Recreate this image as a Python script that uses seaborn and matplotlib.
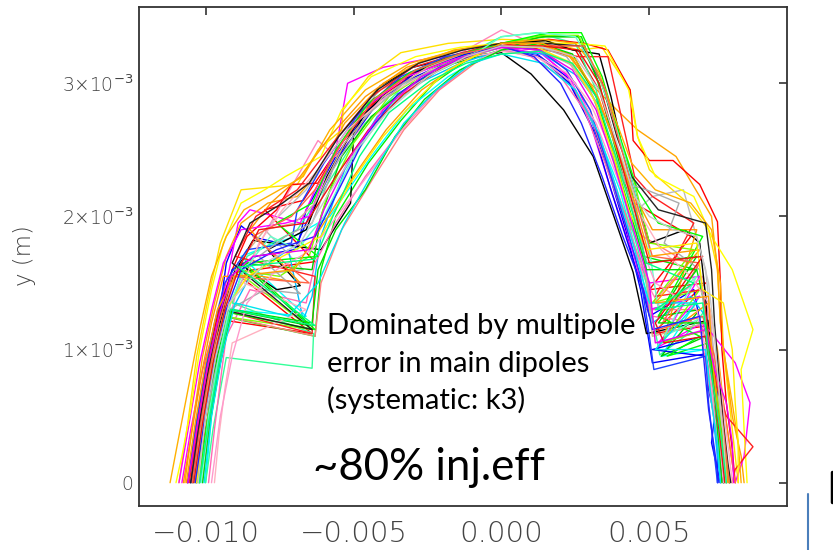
import matplotlib
matplotlib.use("Agg")
import matplotlib.pyplot as plt
import matplotlib.ticker as mticker
from matplotlib.lines import Line2D
import seaborn as sns
import pandas as pd

# ---- data (mm units: x, y of each seed's aperture boundary) ----
s01 = [(-10.3,0),(-10.0,0.4),(-9.7,0.8),(-9.35,1.22),(-6.4,1.12),(-9.0,1.58),(-6.3,1.66),(-8.0,2.05),(-6.7,2.12),(-5.4,2.55),(-4.2,2.88),(-2.9,3.08),(-1.5,3.2),(0.0,3.3),(1.3,3.3),(2.5,3.25),(3.3,2.95),(3.9,2.5),(4.5,2.1),(6.4,1.85),(5.0,1.45),(6.9,1.5),(5.1,1.12),(7.0,1.18),(7.2,0.8),(7.4,0.45),(7.6,0.18),(7.7,0)]
s02 = [(-10.6,0),(-10.3,0.35),(-10.0,0.75),(-9.6,1.15),(-9.3,1.65),(-8.8,1.93),(-8.3,1.84),(-6.9,1.77),(-6.6,2.05),(-5.6,2.45),(-4.5,2.8),(-3.2,3.02),(-1.7,3.17),(0.0,3.27),(1.2,3.22),(2.2,3.05),(3.0,2.75),(3.6,2.35),(4.2,1.9),(4.7,1.45),(5.1,0.9),(6.95,0.97),(7.0,0.7),(7.2,0.5),(7.1,0.3),(7.3,0.1),(7.4,0)]
s03 = [(-10.2,0),(-9.95,0.45),(-9.7,0.85),(-9.4,1.25),(-6.3,1.1),(-6.1,1.6),(-5.6,2.0),(-4.5,2.4),(-3.4,2.72),(-2.3,3.0),(-1.0,3.2),(0.0,3.3),(1.5,3.35),(2.7,3.35),(3.2,3.05),(3.8,2.6),(4.4,2.2),(4.8,1.7),(6.6,1.6),(6.9,1.3),(7.0,0.9),(7.25,0.5),(7.5,0.2),(7.6,0)]
s04 = [(-10.5,0),(-10.2,0.45),(-9.9,0.85),(-9.5,1.2),(-9.1,1.55),(-8.4,1.82),(-6.1,1.75),(-5.1,2.1),(-5.0,2.62),(-4.1,2.98),(-3.0,3.12),(-1.5,3.2),(0.0,3.23),(1.0,3.07),(2.1,2.8),(3.1,2.45),(3.8,2.0),(4.45,1.58),(4.9,1.12),(7.0,1.22),(7.1,0.8),(7.3,0.45),(7.5,0.2),(7.7,0)]
s05 = [(-10.8,0),(-10.5,0.4),(-10.1,0.85),(-9.6,1.25),(-9.2,1.6),(-8.9,1.95),(-8.5,2.05),(-6.8,1.95),(-6.3,2.2),(-5.6,2.5),(-5.2,3.0),(-4.0,3.12),(-2.6,3.18),(-1.3,3.22),(0.0,3.28),(1.2,3.25),(2.3,3.05),(3.0,2.7),(3.7,2.2),(4.3,1.8),(5.0,1.5),(6.7,1.55),(5.3,1.02),(6.8,1.2),(7.2,0.9),(7.5,0.6),(7.7,0.3),(7.9,0)]
s06 = [(-10.0,0),(-9.8,0.5),(-9.5,0.95),(-9.2,1.3),(-6.6,1.25),(-8.8,1.7),(-7.0,1.85),(-5.8,2.0),(-4.4,2.45),(-3.2,2.8),(-1.8,3.05),(-0.6,3.2),(0.0,3.25),(1.3,3.2),(2.5,2.95),(3.3,2.6),(4.0,2.2),(4.6,1.7),(5.0,1.3),(6.7,1.4),(5.4,0.95),(6.9,1.0),(7.1,0.6),(7.3,0.3),(7.5,0)]
s07 = [(-10.9,0),(-10.6,0.45),(-10.3,0.95),(-9.9,1.4),(-9.5,1.8),(-8.8,2.2),(-6.9,2.24),(-6.2,2.5),(-5.4,2.65),(-5.35,2.8),(-4.5,3.05),(-3.4,3.23),(-1.8,3.3),(0.0,3.33),(1.5,3.32),(2.6,3.25),(3.4,3.27),(4.35,2.95),(4.6,2.6),(5.0,2.35),(6.3,2.1),(7.0,1.9),(7.3,1.6),(7.4,1.2),(7.6,0.8),(7.8,0.4),(8.0,0)]
s08 = [(-10.7,0),(-10.4,0.5),(-10.1,0.95),(-9.7,1.35),(-9.3,1.7),(-8.8,1.95),(-7.9,2.1),(-6.9,2.15),(-6.3,2.3),(-5.3,2.7),(-4.0,3.0),(-2.6,3.18),(-1.2,3.26),(0.0,3.3),(1.4,3.28),(2.3,3.2),(3.0,3.0),(3.9,2.8),(4.6,2.65),(5.9,2.45),(7.1,2.0),(7.3,1.6),(7.4,1.2),(7.6,0.85),(7.8,0.5),(8.1,0.2),(8.2,0)]
s09 = [(-10.1,0),(-9.85,0.5),(-9.5,0.95),(-9.0,1.4),(-8.4,1.7),(-7.8,1.95),(-6.2,2.57),(-5.6,2.45),(-4.6,2.7),(-3.2,2.95),(-1.6,3.2),(0.0,3.4),(1.1,3.3),(2.2,3.1),(3.0,2.8),(3.6,2.4),(4.2,2.0),(4.8,1.55),(5.4,1.3),(6.8,1.55),(7.1,1.1),(7.3,0.7),(7.5,0.35),(7.7,0)]
s10 = [(-10.4,0),(-10.1,0.45),(-9.8,0.85),(-9.3,1.3),(-8.7,1.55),(-6.7,1.6),(-8.0,1.9),(-6.6,2.2),(-5.5,2.6),(-4.1,2.95),(-2.6,3.12),(-1.2,3.22),(0.0,3.28),(1.4,3.25),(2.5,3.12),(3.2,2.85),(3.8,2.45),(4.6,2.05),(5.1,2.15),(6.15,2.2),(6.9,1.6),(7.1,1.15),(7.3,0.7),(7.5,0.3),(7.6,0)]
s11 = [(-10.2,0),(-9.95,0.45),(-9.65,0.9),(-9.3,1.25),(-6.3,1.1),(-6.1,1.5),(-5.4,1.9),(-4.3,2.3),(-3.3,2.65),(-2.1,2.95),(-0.9,3.15),(0.0,3.25),(1.3,3.2),(2.3,3.0),(3.1,2.7),(3.7,2.3),(4.4,1.9),(6.3,1.65),(4.9,1.3),(6.6,1.3),(7.0,1.0),(7.2,0.6),(7.45,0.25),(7.6,0)]
s12 = [(-10.0,0),(-9.75,0.4),(-9.3,0.94),(-6.4,0.86),(-6.35,1.12),(-9.1,1.35),(-8.6,1.7),(-6.9,1.9),(-6.0,2.2),(-4.6,2.7),(-3.2,3.0),(-1.8,3.15),(0.0,3.35),(1.2,3.38),(2.5,3.3),(3.2,2.95),(3.7,2.5),(4.3,2.0),(4.8,1.6),(5.35,0.96),(6.2,1.1),(6.9,1.3),(7.1,0.9),(7.3,0.5),(7.5,0.2),(7.7,0)]
s13 = [(-10.6,0),(-10.3,0.45),(-9.95,0.9),(-9.55,1.3),(-9.1,1.6),(-8.6,1.85),(-7.6,2.05),(-7.1,2.24),(-6.2,2.25),(-5.0,2.7),(-3.7,3.0),(-2.2,3.17),(-0.8,3.26),(0.0,3.3),(1.6,3.33),(2.8,3.3),(3.6,3.25),(4.35,2.95),(4.45,2.57),(5.0,2.42),(5.8,2.42),(6.7,2.24),(7.3,1.96),(7.4,1.5),(7.45,1.0),(7.6,0.6),(7.8,0.25),(7.9,0)]
s14 = [(-10.3,0),(-10.0,0.5),(-9.6,0.95),(-9.2,1.3),(-6.5,1.18),(-8.8,1.65),(-6.4,1.6),(-6.1,2.0),(-5.4,2.45),(-4.4,2.75),(-3.0,3.0),(-1.6,3.15),(0.0,3.25),(1.3,3.35),(2.6,3.35),(3.3,3.0),(3.8,2.55),(4.3,2.15),(4.9,1.65),(6.6,1.7),(5.3,1.25),(6.7,1.3),(5.4,0.95),(6.9,1.1),(7.1,0.7),(7.3,0.35),(7.5,0)]
s15 = [(-10.5,0),(-10.2,0.5),(-9.9,0.9),(-9.5,1.3),(-9.1,1.6),(-8.3,1.7),(-7.0,1.75),(-6.4,2.05),(-5.5,2.45),(-4.2,2.85),(-2.8,3.1),(-1.2,3.22),(0.0,3.27),(1.3,3.2),(2.3,3.0),(3.1,2.65),(3.7,2.2),(4.2,1.85),(4.7,1.5),(5.0,1.25),(6.5,1.45),(6.8,1.1),(5.1,1.0),(6.9,0.95),(7.3,0.7),(7.2,0.5),(7.3,0.25),(7.3,0)]
s16 = [(-10.45,0),(-10.15,0.5),(-9.8,0.95),(-9.4,1.35),(-8.9,1.65),(-7.6,1.45),(-6.8,1.48),(-7.9,1.75),(-6.6,1.9),(-5.9,2.3),(-4.9,2.7),(-3.6,3.0),(-2.0,3.18),(0.0,3.3),(1.5,3.32),(2.4,3.25),(3.3,3.22),(3.7,2.9),(4.1,2.5),(4.5,2.2),(5.0,1.8),(6.2,1.9),(6.7,1.8),(6.9,1.4),(7.0,1.0),(7.2,0.6),(7.35,0.25),(7.5,0)]
s17 = [(-10.9,0),(-10.55,0.45),(-10.2,0.9),(-9.8,1.3),(-9.4,1.65),(-8.8,1.9),(-7.3,1.95),(-6.5,2.0),(-5.8,2.4),(-4.7,2.8),(-3.2,3.05),(-1.6,3.18),(0.0,3.27),(1.4,3.22),(2.5,3.0),(3.3,2.6),(4.0,2.1),(4.6,1.6),(5.0,1.3),(6.7,1.4),(5.3,1.05),(7.0,1.15),(7.9,0.9),(8.4,0.6),(8.2,0.2),(7.9,0)]
s18 = [(-10.2,0),(-9.9,0.45),(-9.5,0.9),(-9.1,1.3),(-8.5,1.55),(-7.2,1.75),(-6.7,1.22),(-6.4,1.4),(-6.1,1.85),(-5.3,2.35),(-4.2,2.75),(-2.8,3.0),(-1.4,3.15),(0.0,3.25),(1.4,3.22),(2.6,3.05),(3.4,2.8),(4.0,2.45),(4.6,2.0),(4.9,1.6),(5.1,1.2),(6.4,1.4),(6.9,1.25),(7.1,0.8),(7.2,0.4),(7.4,0)]
s19 = [(-11.0,0),(-10.8,0.2),(-10.5,0.55),(-10.2,1.0),(-9.8,1.45),(-9.4,1.8),(-8.8,2.1),(-8.0,2.2),(-7.3,2.3),(-6.1,2.45),(-5.4,2.8),(-4.4,3.05),(-2.9,3.2),(-1.4,3.27),(0.0,3.3),(1.4,3.3),(2.5,3.3),(3.5,3.28),(4.3,2.95),(4.6,2.6),(5.2,2.3),(6.5,2.15),(7.1,1.85),(7.8,1.6),(8.5,1.15),(8.1,0.85),(8.2,0.4),(8.3,0)]
s20 = [(-10.75,0),(-10.45,0.4),(-10.15,0.8),(-9.8,1.2),(-9.4,1.55),(-8.1,1.55),(-6.8,1.5),(-8.5,1.9),(-7.8,2.1),(-6.8,2.3),(-5.8,2.6),(-4.6,2.9),(-3.2,3.12),(-1.6,3.25),(0.0,3.3),(1.2,3.3),(2.3,3.22),(3.1,2.95),(3.8,2.6),(4.4,2.2),(5.1,1.9),(6.6,1.9),(5.5,1.1),(7.0,1.35),(7.3,1.0),(7.5,0.6),(7.7,0.3),(7.9,0)]
s21 = [(-9.9,0),(-9.7,0.4),(-9.45,0.85),(-9.3,1.1),(-8.5,1.45),(-6.6,1.35),(-6.3,1.65),(-5.6,1.95),(-4.6,2.3),(-3.5,2.62),(-2.3,2.92),(-1.0,3.15),(0.0,3.25),(1.0,3.2),(2.0,3.05),(2.8,2.8),(3.5,2.4),(4.2,1.95),(4.9,1.55),(5.1,1.25),(6.7,1.2),(6.9,0.9),(7.1,0.6),(7.3,0.3),(7.45,0)]
s22 = [(-10.35,0),(-10.05,0.45),(-9.75,0.85),(-9.4,1.25),(-6.4,1.15),(-9.0,1.6),(-7.5,1.55),(-6.5,1.7),(-5.9,2.15),(-5.0,2.55),(-3.8,2.9),(-2.4,3.1),(-1.0,3.22),(0.0,3.3),(1.4,3.36),(2.6,3.36),(3.3,3.05),(3.9,2.65),(4.5,2.25),(5.0,1.8),(6.5,1.75),(5.1,1.35),(6.7,1.45),(5.4,1.05),(6.95,1.15),(7.2,0.8),(7.4,0.45),(7.6,0.15),(7.7,0)]
s23 = [(-10.4,0),(-10.1,0.5),(-9.75,0.95),(-9.3,1.35),(-8.9,1.65),(-8.0,1.9),(-7.0,1.95),(-6.3,2.1),(-5.3,2.55),(-4.0,2.9),(-2.5,3.12),(-1.1,3.24),(0.0,3.28),(1.2,3.25),(2.3,3.15),(3.1,2.9),(3.7,2.5),(4.3,2.15),(4.8,1.75),(5.1,1.1),(6.9,1.2),(7.05,0.85),(7.2,0.5),(7.4,0.2),(7.55,0)]
s24 = [(-10.55,0),(-10.25,0.45),(-9.9,0.9),(-9.5,1.3),(-6.4,1.12),(-6.3,1.55),(-9.0,1.7),(-8.3,2.0),(-6.9,2.2),(-5.7,2.55),(-4.4,2.9),(-3.0,3.12),(-1.5,3.22),(0.0,3.3),(1.5,3.25),(2.6,3.2),(3.6,3.2),(4.1,2.7),(4.5,2.3),(5.1,2.15),(6.5,1.95),(5.2,1.4),(6.8,1.45),(7.0,1.1),(7.3,0.7),(7.6,0.5),(8.5,0.27),(7.9,0.1),(7.8,0)]
s25 = [(-10.6,0),(-10.35,0.4),(-10.05,0.8),(-9.7,1.2),(-9.35,1.5),(-8.6,1.75),(-7.1,1.8),(-6.9,2.05),(-6.0,2.4),(-4.8,2.78),(-3.4,3.05),(-1.9,3.2),(0.0,3.28),(1.3,3.25),(2.2,3.1),(3.0,2.8),(3.7,2.3),(4.25,1.9),(4.7,1.55),(5.0,1.1),(5.15,0.85),(6.9,0.95),(7.0,0.6),(7.15,0.3),(7.3,0)]
s26 = [(-10.25,0),(-9.95,0.45),(-9.6,0.9),(-9.25,1.28),(-6.3,1.15),(-8.7,1.65),(-6.2,1.7),(-7.6,1.95),(-6.4,2.1),(-5.6,2.5),(-4.5,2.85),(-3.1,3.08),(-1.7,3.2),(0.0,3.3),(1.6,3.38),(2.7,3.38),(3.4,3.05),(4.0,2.6),(4.6,2.2),(5.3,1.95),(6.8,1.85),(5.3,1.25),(6.7,1.1),(5.6,0.95),(7.0,1.05),(7.2,0.7),(7.45,0.35),(7.6,0)]
s27 = [(-9.7,0),(-9.55,0.35),(-9.35,0.7),(-9.1,1.05),(-6.6,1.3),(-8.7,1.5),(-8.2,1.8),(-7.4,2.05),(-6.2,2.35),(-5.2,2.65),(-3.9,2.9),(-2.4,3.1),(-1.0,3.2),(0.0,3.24),(1.2,3.2),(2.2,3.08),(3.0,2.85),(3.8,2.45),(4.6,2.05),(5.4,1.75),(6.4,1.55),(7.0,1.35),(7.3,0.95),(7.5,0.55),(7.7,0.2),(7.8,0)]
s28 = [(-11.2,0),(-10.9,0.35),(-10.55,0.75),(-10.2,1.15),(-9.8,1.55),(-9.3,1.85),(-8.7,2.05),(-7.9,2.15),(-6.7,2.3),(-5.8,2.65),(-4.6,2.95),(-3.1,3.15),(-1.5,3.25),(0.0,3.3),(1.4,3.33),(2.5,3.3),(3.3,3.08),(3.9,2.7),(4.4,2.4),(5.2,2.2),(6.4,2.1),(7.1,1.9),(7.4,1.5),(7.5,1.0),(7.8,0.6),(8.0,0.3),(8.1,0)]
s29 = [(-10.3,0),(-10.0,0.5),(-9.6,0.9),(-9.2,1.3),(-8.0,1.45),(-6.8,1.42),(-8.2,1.7),(-7.3,1.85),(-6.4,1.95),(-5.7,2.35),(-4.6,2.75),(-3.3,3.0),(-1.8,3.15),(0.0,3.27),(1.2,3.28),(2.2,3.2),(3.0,2.95),(3.6,2.6),(4.2,2.25),(4.9,2.2),(6.0,2.1),(5.5,1.8),(6.7,1.6),(6.9,1.2),(7.1,0.8),(7.3,0.4),(7.5,0.15),(7.6,0)]
s30 = [(-10.5,0),(-10.2,0.45),(-9.85,0.9),(-9.45,1.3),(-6.4,1.15),(-9.1,1.65),(-8.5,1.95),(-7.4,2.1),(-6.5,2.25),(-5.5,2.6),(-4.2,2.95),(-2.8,3.15),(-1.3,3.25),(0.0,3.3),(1.5,3.3),(2.7,3.28),(3.4,3.0),(3.9,2.6),(4.4,2.3),(5.3,2.05),(6.9,1.95),(7.1,1.6),(7.2,1.2),(7.35,0.8),(7.5,0.45),(7.65,0.15),(7.75,0)]
s31 = [(-10.15,0),(-9.9,0.5),(-9.55,0.95),(-9.15,1.35),(-8.7,1.6),(-7.8,1.85),(-6.9,1.75),(-6.0,2.0),(-5.0,2.45),(-3.7,2.85),(-2.1,3.1),(-0.7,3.25),(0.0,3.35),(1.3,3.38),(2.5,3.35),(3.3,3.05),(3.9,2.65),(4.5,2.2),(5.0,1.75),(5.3,1.3),(6.6,1.55),(5.5,1.1),(6.85,1.25),(7.05,0.9),(7.25,0.55),(7.4,0.2),(7.55,0)]
s32 = [(-10.45,0),(-10.2,0.4),(-9.9,0.8),(-9.55,1.2),(-9.1,1.55),(-6.5,1.5),(-8.4,1.85),(-7.1,2.0),(-6.3,2.2),(-5.4,2.55),(-4.3,2.88),(-2.9,3.1),(-1.4,3.22),(0.0,3.28),(1.5,3.28),(2.8,3.28),(3.5,2.95),(4.0,2.55),(4.5,2.15),(5.1,1.7),(6.7,1.65),(5.3,1.15),(6.8,1.25),(7.2,0.95),(7.4,0.6),(7.55,0.3),(7.7,0)]
s33 = [(-9.8,0),(-9.5,0.5),(-9.1,0.95),(-8.6,1.35),(-7.6,1.6),(-6.4,1.75),(-5.4,2.05),(-4.2,2.4),(-3.2,2.7),(-2.2,2.95),(-1.0,3.15),(0.0,3.26),(1.2,3.2),(2.3,3.02),(3.2,2.7),(3.9,2.3),(4.5,1.9),(5.2,1.5),(6.6,1.3),(7.0,0.9),(7.2,0.5),(7.4,0.2),(7.5,0)]
s34 = [(-10.1,0),(-9.85,0.45),(-9.5,0.9),(-9.1,1.3),(-6.4,1.2),(-6.2,1.6),(-5.6,1.9),(-4.6,2.2),(-3.6,2.6),(-2.6,2.88),(-1.4,3.1),(0.0,3.25),(1.3,3.3),(2.4,3.22),(3.2,2.9),(3.8,2.45),(4.4,2.0),(4.9,1.6),(6.6,1.6),(5.3,1.2),(6.9,1.2),(7.15,0.8),(7.3,0.4),(7.45,0)]
s35 = [(-10.05,0),(-9.8,0.5),(-9.45,0.95),(-9.0,1.35),(-7.2,1.25),(-6.2,1.5),(-5.3,1.95),(-4.3,2.35),(-3.3,2.7),(-2.2,2.95),(-1.0,3.15),(0.0,3.22),(1.4,3.15),(2.5,2.95),(3.3,2.62),(3.9,2.2),(4.5,1.75),(5.0,1.35),(6.6,1.35),(5.2,1.0),(6.9,1.0),(7.1,0.6),(7.3,0.3),(7.4,0)]
s36 = [(-10.65,0),(-10.35,0.45),(-10.0,0.9),(-9.6,1.3),(-9.0,1.55),(-7.0,1.6),(-6.0,1.95),(-5.0,2.3),(-3.9,2.65),(-2.7,2.95),(-1.4,3.15),(0.0,3.3),(1.4,3.3),(2.5,3.18),(3.3,2.88),(3.9,2.5),(4.5,2.1),(5.0,1.7),(6.7,1.75),(5.2,1.35),(7.0,1.4),(7.1,1.0),(7.3,0.55),(7.5,0.25),(7.65,0)]
s37 = [(-10.3,0),(-10.05,0.5),(-9.7,0.95),(-9.3,1.3),(-8.6,1.55),(-7.4,1.7),(-6.1,1.85),(-5.1,2.25),(-4.0,2.6),(-3.0,2.85),(-1.8,3.1),(-0.6,3.24),(0.0,3.28),(1.2,3.27),(2.4,3.15),(3.2,2.85),(3.8,2.45),(4.3,2.05),(4.9,1.75),(6.6,1.8),(6.8,1.45),(7.5,1.35),(7.8,1.0),(7.9,0.6),(8.0,0.3),(8.0,0)]
s38 = [(-10.4,0),(-10.1,0.45),(-9.75,0.9),(-9.35,1.3),(-8.9,1.6),(-8.2,1.9),(-6.6,1.95),(-5.6,2.3),(-4.5,2.65),(-3.3,2.92),(-2.0,3.12),(-0.8,3.23),(0.0,3.28),(1.4,3.28),(2.6,3.25),(3.3,3.0),(3.8,2.6),(4.3,2.2),(5.0,1.65),(6.8,1.7),(5.2,1.2),(5.5,1.05),(6.9,1.1),(7.15,0.75),(7.35,0.4),(7.55,0)]
s39 = [(-10.35,0),(-10.05,0.45),(-9.7,0.9),(-9.3,1.3),(-8.8,1.6),(-7.6,1.75),(-6.3,1.85),(-5.5,2.2),(-4.6,2.6),(-3.5,2.92),(-2.1,3.12),(-0.7,3.24),(0.0,3.28),(1.1,3.2),(2.0,3.0),(2.7,2.7),(3.4,2.3),(4.1,1.85),(4.8,1.45),(5.1,1.15),(6.7,1.25),(6.85,0.9),(7.0,0.55),(7.2,0.25),(7.35,0)]
s40 = [(-10.6,0),(-10.3,0.4),(-9.95,0.85),(-9.55,1.25),(-9.15,1.55),(-8.4,1.7),(-6.5,1.75),(-6.0,2.05),(-5.1,2.45),(-4.0,2.8),(-2.7,3.05),(-1.3,3.2),(0.0,3.27),(1.3,3.25),(2.4,3.1),(3.2,2.8),(3.8,2.4),(4.4,1.95),(5.0,1.5),(5.2,1.05),(6.9,1.15),(7.2,0.85),(7.6,0.6),(7.8,0.3),(7.85,0)]
s41 = [(-10.25,0),(-10.0,0.5),(-9.65,0.95),(-9.2,1.35),(-8.0,1.65),(-6.8,1.8),(-5.9,2.15),(-4.9,2.5),(-3.8,2.8),(-2.5,3.05),(-1.2,3.2),(0.0,3.28),(1.4,3.27),(2.5,3.2),(3.3,2.95),(3.9,2.55),(4.5,2.15),(5.0,2.0),(5.8,1.9),(6.6,1.85),(7.0,1.5),(7.2,1.1),(7.35,0.7),(7.5,0.35),(7.6,0)]
s42 = [(-10.2,0),(-9.9,0.45),(-9.55,0.9),(-9.15,1.3),(-6.3,1.18),(-8.9,1.62),(-6.3,1.68),(-5.7,2.0),(-4.8,2.45),(-3.8,2.78),(-2.4,3.02),(-1.2,3.15),(0.0,3.22),(1.3,3.24),(2.4,3.15),(3.2,2.9),(3.8,2.5),(4.4,2.05),(4.9,1.65),(6.5,1.5),(5.2,1.3),(6.8,1.35),(7.0,0.95),(7.25,0.6),(7.45,0.3),(7.6,0)]

seeds = [s01, s02, s03, s04, s05, s06, s07, s08, s09, s10, s11, s12, s13, s14,
         s15, s16, s17, s18, s19, s20, s21, s22, s23, s24, s25, s26, s27, s28,
         s29, s30, s31, s32, s33, s34, s35, s36, s37, s38, s39, s40, s41, s42]
seed_colors = ['#ff0000', '#0000ff', '#00ee00', '#000000', '#ff00ff', '#00ffff', '#ffe000',
               '#ffa500', '#ff88bb', '#bbbbbb', '#ff7f7f', '#33ff99', '#ff0000', '#00cc00',
               '#0000ff', '#000000', '#ff00ff', '#00bfff', '#ffff00', '#ff9900', '#ff69b4',
               '#7fff00', '#d2b48c', '#ff2020', '#1e40ff', '#00ff00', '#ffb0c0', '#ffb000',
               '#aaaaaa', '#222222', '#66ffcc', '#ff6347', '#ff99cc', '#00dd00', '#00e5ee',
               '#ffa000', '#ffee00', '#ee1111', '#2222ff', '#ee00ee', '#c8c8c8', '#00ff80']

x_ticks = [-10, -5, 0, 5]
x_tick_labels = ['\u22120.010', '\u22120.005', '0.000', '0.005']
y_ticks = [0, 1, 2, 3]
y_tick_labels = ['0', '1\u00d710$^{-3}$', '2\u00d710$^{-3}$', '3\u00d710$^{-3}$']

rows = []
for i, pts in enumerate(seeds):
    for j, (xv, yv) in enumerate(pts):
        rows.append({'seed': f's{i+1:02d}', 'order': j, 'x': xv, 'y': yv})
df = pd.DataFrame(rows)
palette = {f's{i+1:02d}': c for i, c in enumerate(seed_colors)}

sns.set_style('white')
W, H = 833, 550
fig = plt.figure(figsize=(W / 100, H / 100), dpi=100)
ax = fig.add_axes([139 / W, 1 - 506 / H, (787 - 139) / W, (506 - 7) / H])

sns.lineplot(data=df, x='x', y='y', hue='seed', palette=palette, sort=False,
             estimator=None, legend=False, linewidth=1.0, ax=ax)

ax.set_xlim(-12.25, 9.65)
ax.set_ylim(-0.175, 3.573)
ax.set_xlabel('')
ax.set_ylabel('')
ax.xaxis.set_major_locator(mticker.FixedLocator(x_ticks))
ax.xaxis.set_major_formatter(mticker.FixedFormatter(x_tick_labels))
ax.yaxis.set_major_locator(mticker.FixedLocator(y_ticks))
ax.yaxis.set_major_formatter(mticker.FixedFormatter(y_tick_labels))
ax.tick_params(direction='in', top=True, right=True, length=6, width=1.2, color='#333333')
ax.tick_params(axis='x', labelsize=21, pad=10, labelcolor='#444444')
ax.tick_params(axis='y', labelsize=13.5, pad=4, labelcolor='#444444')
for lab in ax.get_xticklabels() + ax.get_yticklabels():
    lab.set_fontweight('light')
for sp in ax.spines.values():
    sp.set_color('#333333')
    sp.set_linewidth(1.3)

def fx(px):
    return px / W

def fy(py):
    return 1 - py / H

fig.text(fx(25), fy(256), 'y (m)', rotation=90, ha='center', va='center',
         fontsize=16.5, color='#444444', fontweight='light')

ann_font = ['Lato', 'DejaVu Sans']
ann_kw = dict(fontsize=21, family=ann_font, va='baseline', color='black')
fig.text(fx(327), fy(334), 'Dominated by multipole', **ann_kw)
fig.text(fx(327), fy(372), 'error in main dipoles', **ann_kw)
fig.text(fx(327), fy(409), '(systematic: k3)', **ann_kw)
fig.text(fx(313), fy(480), '~80% inj.eff', fontsize=31.5, family=ann_font,
         va='baseline', color='black')

# slide fragments at the lower right edge
fig.add_artist(Line2D([fx(808), fx(808)], [fy(494), fy(550)], color='#4a7ebb', lw=1.5))
fig.add_artist(Line2D([fx(832), fx(832)], [fy(472), fy(502)], color='black', lw=2.5))

fig.savefig('out.png', dpi=100)
